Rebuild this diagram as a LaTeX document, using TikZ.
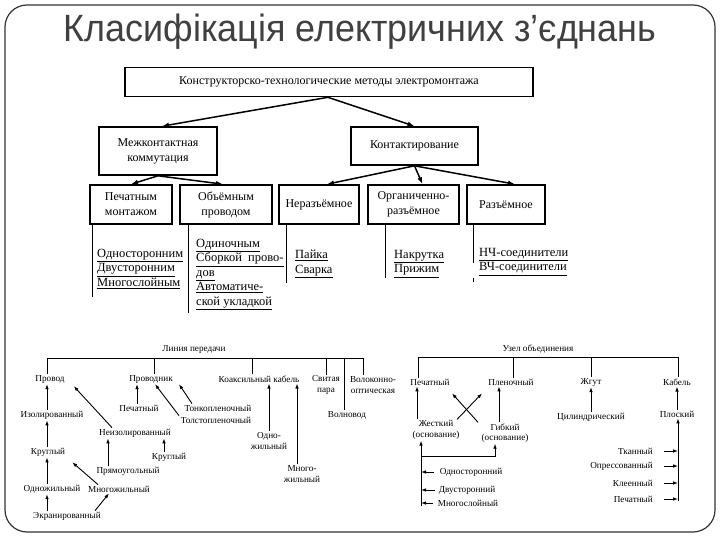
\documentclass[tikz,border=0pt]{standalone}
\usepackage{fontspec}
\setmainfont{Liberation Serif}
\newfontfamily\titlefont{Liberation Sans}
\usepackage{tikz}
\usetikzlibrary{arrows.meta}
\usetikzlibrary{positioning}

\tikzset{
  box/.style={draw,line width=1.6pt,align=center,inner sep=0pt,font=\fontsize{12}{15}\selectfont},
  lst/.style={anchor=north west,align=left,inner sep=0pt,font=\fontsize{12.5}{14.5}\selectfont},
  lab/.style={inner sep=1pt,align=center,font=\fontsize{9.2}{10.5}\selectfont},
  bigarrow/.style={-{Latex[length=7pt,width=5pt]},line width=1.5pt},
  smallarrow/.style={-{Latex[length=5pt,width=3.6pt]},line width=0.9pt},
  tree/.style={line width=0.9pt}
}

\begin{document}
\begin{tikzpicture}[x=1pt,y=-1pt]
\useasboundingbox (0,0) rectangle (720,540);
\draw[line width=1.2pt,black!80,rounded corners=22pt] (5,5) rectangle (715,532);
\node[font=\titlefont\fontsize{38}{40}\selectfont,text=black!75] (title) at (360,32)
  {\scalebox{0.945}[1]{Класифікація електричних з’єднань}};

% upper scheme
\begin{scope}[every node/.style={box}]
  \node[minimum width=408,minimum height=29] (topbox) at (329,82) {Конструкторско-технологические методы электромонтажа};
  \node[minimum width=118,minimum height=48] (mezh) at (158,151) {Межконтактная\\коммутация};
  \node[minimum width=127,minimum height=38] (kont) at (414.5,146) {Контактирование};
  \node[minimum width=82,minimum height=39] (pech) at (131,204.5) {Печатным\\монтажом};
  \node[minimum width=92,minimum height=39] (obem) at (226,204.5) {Объёмным\\проводом};
  \node[minimum width=80,minimum height=39] (neraz) at (319,204.5) {Неразъёмное};
  \node[minimum width=91,minimum height=39] (org) at (413.5,204.5) {Органиченно-\\разъёмное};
  \node[minimum width=78,minimum height=39] (raz) at (506,204.5) {Разъёмное};
\end{scope}
\begin{scope}[bigarrow]
  \draw ([xshift=-1pt]topbox.south) -- ([xshift=4pt]mezh.north);
  \draw ([xshift=-1pt]topbox.south) -- (kont.north);
  \draw (mezh.south) -- (pech.north);
  \draw (mezh.south) -- ([xshift=-3pt]obem.north);
  \draw (kont.south) -- ([xshift=8pt]neraz.north);
  \draw (kont.south) -- ([xshift=9pt]org.north);
  \draw (kont.south) -- ([xshift=9pt]raz.north);
\end{scope}
\begin{scope}[line width=1pt]
  \draw ([xshift=3pt]pech.south west) -- ++(0,72);
  \draw ([xshift=9pt]obem.south west) -- ++(0,88);
  \draw ([xshift=8pt]neraz.south west) -- ++(0,58);
  \draw ([xshift=18pt]org.south west) -- ++(0,53);
  \draw ([xshift=7pt]raz.south west) -- ++(0,38);
  \draw ([xshift=7pt,yshift=-53pt]raz.south west) -- ++(0,4);
\end{scope}
\node[lst] (spech) at (97,249) {\underline{Односторонним}\\\underline{Двусторонним}\\\underline{Многослойным}};
\node[lst] (sobem) at (196,239) {\underline{Одиночным}\\\underline{Сборкой\ \ прово-}\\\underline{дов}\\\underline{Автоматиче-}\\\underline{ской укладкой}};
\node[lst] (sneraz) at (295,250) {\underline{Пайка}\\\underline{Сварка}};
\node[lst] (sorg) at (394,250) {\underline{Накрутка}\\\underline{Прижим}};
\node[lst] (sraz) at (479,248) {\underline{НЧ-соединители}\\\underline{ВЧ-соединители}};

% line of transmission
\begin{scope}[every node/.style={lab}]
  \node (lp) at (194,349) {Линия передачи};
  \node (provod) at (50,379) {Провод};
  \node (provodnik) at (151,379) {Проводник};
  \node (koax) at (259,379) {Коаксильный кабель};
  \node (svit) at (326,385) {Свитая\\пара};
  \node (volok) at (373,385) {Волоконно-\\оптическая};
  \node (volnovod) at (347,415) {Волновод};
  \node (pechl) at (139,408) {Печатный};
  \node (tonk) at (218,408) {Тонкопленочный};
  \node (tolst) at (216,420) {Толстопленочный};
  \node (izol) at (52,415) {Изолированный};
  \node (neizol) at (135,433) {Неизолированный};
  \node (krugl) at (48,452) {Круглый};
  \node (kruglr) at (169,457) {Круглый};
  \node (pryam) at (128,471) {Прямоугольный};
  \node (odnozh) at (52,489) {Одножильный};
  \node (mnogozh) at (119,489) {Многожильный};
  \node (ekran) at (67,516) {Экранированный};
  \node (odnok) at (269,441) {Одно-\\жильный};
  \node (mnogok) at (302,474) {Много-\\жильный};
\end{scope}
\coordinate (lpbar) at (0,358);
\begin{scope}[tree]
  \draw ([xshift=-3pt]provod.north) |- ([xshift=-10pt]volok.north |- lpbar) -- ([xshift=-10pt]volok.north);
  \draw ([xshift=3pt]provodnik.north) -- ([xshift=3pt]provodnik.north |- lpbar);
  \draw ([xshift=-7pt]koax.north) -- ([xshift=-7pt]koax.north |- lpbar);
  \draw (svit.north) -- (svit.north |- lpbar);
  \draw ([xshift=-3pt]volnovod.north) -- ([xshift=-3pt]volnovod.north |- lpbar);
\end{scope}
\begin{scope}[smallarrow]
  \draw ([xshift=-5pt]izol.north) -- ([xshift=-3pt]provod.south);
  \draw ([xshift=-1pt]krugl.north) -- ([xshift=-5pt]izol.south);
  \draw ([xshift=-5pt]odnozh.north) -- ([xshift=-1pt]krugl.south);
  \draw ([xshift=-20pt]ekran.north) -- ([xshift=-5pt]odnozh.south);
  \draw ([xshift=28pt]ekran.north) -- ([xshift=-10pt]mnogozh.south);
  \draw ([xshift=-21pt]mnogozh.north) -- ([xshift=6pt,yshift=-5pt]krugl.south east);
  \draw ([xshift=-20pt]pryam.north) -- ([xshift=-27pt]neizol.south);
  \draw ([xshift=-23pt]neizol.north) -- ([xshift=8pt,yshift=-2pt]provod.south east);
  \draw ([xshift=-5pt]kruglr.north) -- ([xshift=29pt]neizol.south);
  \draw ([xshift=-2pt]pechl.north) -- ([xshift=-14pt]provodnik.south);
  \draw ([xshift=-37pt]tolst.north) -- ([xshift=4pt]provodnik.south);
  \draw ([xshift=-26pt]tonk.north) -- ([xshift=28pt]provodnik.south);
  \draw (odnok.north) -- (odnok.north |- koax.south);
  \draw ([xshift=-5pt]mnogok.north) -- ([xshift=-5pt]mnogok.north |- koax.south);
\end{scope}

% junction unit
\begin{scope}[every node/.style={lab}]
  \node (uzel) at (538,349) {Узел объединения};
  \node (pechr) at (430,382) {Печатный};
  \node (plen) at (511,382) {Пленочный};
  \node (zhgut) at (591,382) {Жгут};
  \node (kabel) at (677,382) {Кабель};
  \node (cil) at (591,417) {Цилиндрический};
  \node (plosk) at (677,414) {Плоский};
  \node (zhest) at (436,430) {Жесткий\\(основание)};
  \node (gibk) at (505,433) {Гибкий\\(основание)};
  \node (odnost) at (471,472) {Односторонний};
  \node (dvust) at (467,490) {Двусторонний};
  \node (mnsl) at (468,503) {Многослойный};
  \node[anchor=east] (tkan) at (654,451) {Тканный};
  \node[anchor=east] (opres) at (654,466) {Опрессованный};
  \node[anchor=east] (kleen) at (654,483) {Клеенный};
  \node[anchor=east] (pechk) at (654,499) {Печатный};
\end{scope}
\coordinate (uzbar) at (0,357);
\coordinate (zfoot) at (421,506);
\coordinate (zfork) at (421,456);
\coordinate (kfoot) at (678,501);
\begin{scope}[tree]
  \draw ([xshift=-12pt]pechr.north) |- ([xshift=1pt]kabel.north |- uzbar) -- ([xshift=1pt]kabel.north);
  \draw ([xshift=2pt]plen.north) -- ([xshift=2pt]plen.north |- uzbar);
  \draw (zhgut.north) -- (zhgut.north |- uzbar);
\end{scope}
\begin{scope}[smallarrow]
  \draw ([xshift=-19pt]zhest.north) -- ([xshift=-13pt]pechr.south);
  \draw ([xshift=-6pt]gibk.north) -- ([xshift=-12pt]plen.south);
  \draw ([xshift=-27pt]gibk.north) -- ([xshift=22pt,yshift=-7pt]pechr.south);
  \draw ([xshift=21pt]zhest.north) -- ([xshift=-29pt,yshift=-7pt]plen.south);
  \draw (zfoot) -- (zfoot |- zhest.south);
  \draw (zfork) -| ([xshift=-10pt]gibk.south);
  \draw ([xshift=-5pt]odnost.west) -- (odnost.west -| zfoot);
  \draw ([xshift=-3pt]dvust.west) -- (dvust.west -| zfoot);
  \draw ([xshift=-4pt]mnsl.west) -- (mnsl.west -| zfoot);
  \draw (cil.north) -- (zhgut.south);
  \draw (plosk.north) -- (kabel.south);
  \draw (kfoot) -- (kfoot |- plosk.south);
  \draw ([xshift=10pt]tkan.east) -- (tkan.east -| kfoot);
  \draw ([xshift=10pt]opres.east) -- (opres.east -| kfoot);
  \draw ([xshift=10pt]kleen.east) -- (kleen.east -| kfoot);
  \draw ([xshift=10pt]pechk.east) -- (pechk.east -| kfoot);
\end{scope}
\end{tikzpicture}
\end{document}
